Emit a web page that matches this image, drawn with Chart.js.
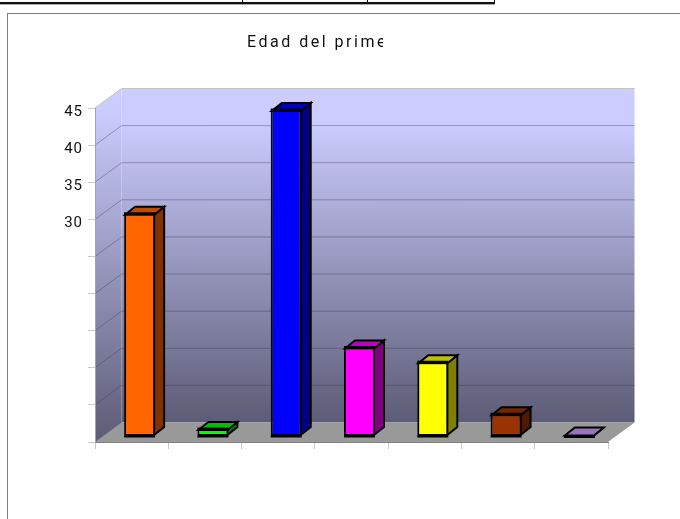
<!DOCTYPE html>
<html><head><meta charset="utf-8">
<style>
html,body{margin:0;padding:0;background:#fff;overflow:hidden}
#wrap{position:relative;width:680px;height:519px;overflow:hidden}
canvas{position:absolute;left:0;top:0}
.l{position:absolute;z-index:2}
</style>
<script src="https://cdn.jsdelivr.net/npm/chart.js@4"></script>
</head><body>
<div id="wrap">
<canvas id="c" width="680" height="519"></canvas>
<div class="l" style="left:0;top:2px;width:495px;height:2px;background:#111"></div>
<div class="l" style="left:0;top:4px;width:495px;height:1px;background:#aaa"></div>
<div class="l" style="left:242px;top:0;width:1px;height:3px;background:#111"></div>
<div class="l" style="left:367px;top:0;width:1px;height:3px;background:#111"></div>
<div class="l" style="left:494px;top:0;width:1px;height:4px;background:#111"></div>
<div class="l" style="left:7px;top:13px;width:673px;height:1px;background:#808080"></div>
<div class="l" style="left:7px;top:13px;width:1px;height:506px;background:#808080"></div>
</div>
<script>
const categories = ['1','2','3','4','5','6','7'];
const values = [30, 1, 44, 12, 10, 3, 0];
const barColors = ['#FF6600','#00FF00','#0000FF','#FF00FF','#FFFF00','#993300','#CC99FF'];
const yTickLabels = ['45','40','35','30'];
const titleText = 'Edad del prime';

const WALL = {dx: 26.5, dy: 19.5};
const BAR = {dx: 8, dy: -5.5, sx: 10, sy: 8};
const TITLE_CUT = 383;

function shade(hex, f){
  const n = parseInt(hex.slice(1), 16);
  const p = s => Math.round(((n >> s) & 255) * f);
  return `rgb(${p(16)},${p(8)},${p(0)})`;
}
function poly(ctx, pts, fill, stroke, lw){
  ctx.beginPath();
  pts.forEach((p, i) => i ? ctx.lineTo(p[0], p[1]) : ctx.moveTo(p[0], p[1]));
  ctx.closePath();
  if (fill){ ctx.fillStyle = fill; ctx.fill(); }
  if (stroke){ ctx.strokeStyle = stroke; ctx.lineWidth = lw; ctx.stroke(); }
}

const chart3d = {
  id: 'chart3d',
  afterLayout(chart){
    const tb = chart.titleBlock;
    if (!tb || tb._wrapped) return;
    const orig = tb.draw.bind(tb);
    tb.draw = function(){
      const ctx = chart.ctx;
      ctx.save();
      ctx.letterSpacing = '2.5px';
      ctx.beginPath();
      ctx.rect(0, 0, TITLE_CUT, chart.height);
      ctx.clip();
      orig();
      ctx.restore();
    };
    tb._wrapped = true;
  },
  beforeDraw(chart){
    const {ctx, chartArea: a, scales: {y}} = chart;
    const d = WALL;
    ctx.save();
    const g = ctx.createLinearGradient(0, a.top - d.dy, 0, a.bottom - d.dy);
    g.addColorStop(0, '#CCCCFF');
    g.addColorStop(0.1, '#CCCCFF');
    g.addColorStop(1, '#5C5C76');
    const g2 = ctx.createLinearGradient(0, a.top, 0, a.bottom);
    g2.addColorStop(0, '#CCCCFF');
    g2.addColorStop(1, '#5C5C76');
    poly(ctx, [[a.left+d.dx,a.top-d.dy],[a.right+d.dx,a.top-d.dy],[a.right+d.dx,a.bottom-d.dy],[a.left+d.dx,a.bottom-d.dy]], g);
    poly(ctx, [[a.left,a.top],[a.left+d.dx,a.top-d.dy],[a.left+d.dx,a.bottom-d.dy],[a.left,a.bottom]], g2);
    poly(ctx, [[a.left,a.bottom],[a.left+d.dx,a.bottom-d.dy],[a.right+d.dx,a.bottom-d.dy],[a.right,a.bottom]], '#999999');
    ctx.lineWidth = 1;
    y.ticks.forEach(t => {
      if (t.value === 0 || t.value === 45) return;
      const py = y.getPixelForValue(t.value);
      ctx.strokeStyle = 'rgba(50,50,70,0.36)';
      ctx.beginPath();
      ctx.moveTo(a.left, py);
      ctx.lineTo(a.left+d.dx, py-d.dy);
      ctx.lineTo(a.right+d.dx, py-d.dy);
      ctx.stroke();
    });
    ctx.strokeStyle = 'rgba(50,50,70,0.36)';
    ctx.beginPath();
    ctx.moveTo(a.left, a.bottom);
    ctx.lineTo(a.left+d.dx, a.bottom-d.dy);
    ctx.stroke();
    ctx.strokeStyle = '#C4C4C4';
    ctx.beginPath();
    ctx.moveTo(a.left, a.top);
    ctx.lineTo(a.left+d.dx, a.top-d.dy);
    ctx.lineTo(a.right+d.dx, a.top-d.dy);
    ctx.stroke();
    ctx.restore();
    ctx.letterSpacing = '1px';
  },
  beforeDatasetDraw(chart, args){
    const ctx = chart.ctx;
    ctx.save();
    ctx.translate(BAR.dx, BAR.dy);
    ctx.lineJoin = 'miter';
    args.meta.data.forEach((bar, i) => {
      const p = bar.getProps(['x','y','base','width'], true);
      const l = p.x - p.width/2 + 1, r = p.x + p.width/2 - 1;
      const t = Math.min(p.y + 1, p.base - 1), b = p.base - 1;
      const c = barColors[i];
      poly(ctx, [[r,t],[r+BAR.sx,t-BAR.sy],[r+BAR.sx,b-BAR.sy],[r,b]], shade(c,0.5), '#000', 2);
      poly(ctx, [[l,t],[l+BAR.sx,t-BAR.sy],[r+BAR.sx,t-BAR.sy],[r,t]], shade(c,0.75), '#000', 2);
    });
  },
  afterDatasetDraw(chart, args){
    const ctx = chart.ctx;
    // the reference's outline sits outside the bar's top and bottom
    ctx.strokeStyle = '#000';
    ctx.lineWidth = 2;
    args.meta.data.forEach(bar => {
      const p = bar.getProps(['x','y','base','width'], true);
      const l = p.x - p.width/2, r = p.x + p.width/2;
      ctx.beginPath();
      ctx.moveTo(l, p.y - 0.5); ctx.lineTo(r, p.y - 0.5);
      ctx.moveTo(l, p.base + 0.5); ctx.lineTo(r, p.base + 0.5);
      ctx.stroke();
    });
    ctx.restore();
  }
};

new Chart(document.getElementById('c'), {
  type: 'bar',
  plugins: [chart3d],
  data: {
    labels: categories,
    datasets: [{
      data: values,
      backgroundColor: barColors,
      borderColor: '#000',
      borderWidth: 2,
      borderSkipped: false,
      barPercentage: 0.423,
      categoryPercentage: 1,
      clip: false
    }]
  },
  options: {
    responsive: false,
    animation: false,
    layout: {autoPadding: false, padding: {left: 27, right: 72, top: 0, bottom: 0}},
    plugins: {
      legend: {display: false},
      tooltip: {enabled: false},
      title: {
        display: true,
        text: titleText,
        color: '#111',
        font: {family: 'Roboto', size: 16, weight: '400', lineHeight: 1.2},
        padding: {top: 33, bottom: 55.8}
      }
    },
    scales: {
      x: {
        afterFit(s){ s.height = 77; },
        grid: {drawOnChartArea: false, color: '#C8C8C8', tickLength: 7},
        border: {color: '#808080'},
        ticks: {display: false}
      },
      y: {
        min: 0, max: 45,
        afterFit(s){ s.width = 68; },
        afterBuildTicks(s){ s.ticks = [0,5,10,15,20,25,30,35,40,45].map(v => ({value: v})); },
        grid: {drawOnChartArea: false, color: '#C8C8C8', tickLength: 7},
        border: {color: '#A0A0B0'},
        ticks: {
          autoSkip: false,
          padding: 5,
          labelOffset: 4,
          color: '#111',
          font: {family: 'Roboto', size: 15, weight: '400'},
          callback: v => yTickLabels.includes(String(v)) ? String(v) : ''
        }
      }
    }
  }
});
</script>
</body></html>
